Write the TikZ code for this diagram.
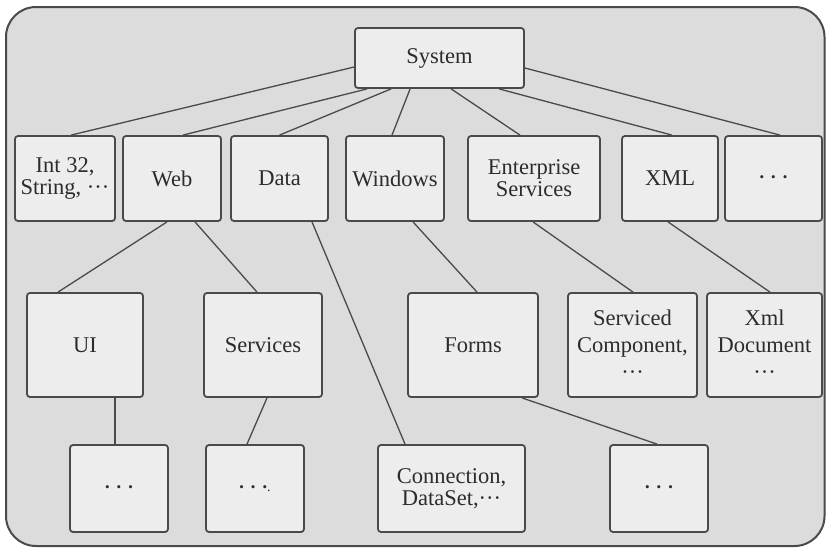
\documentclass[tikz,border=0pt]{standalone}
\usepackage{fontspec}
\setmainfont{Liberation Serif}
\usetikzlibrary{calc}
\definecolor{bgfill}{HTML}{DCDCDC}
\definecolor{boxfill}{HTML}{EDEDED}
\definecolor{edge}{HTML}{4A4A4A}
\definecolor{ink}{HTML}{2C2C2C}
\tikzset{
  box/.style={draw=edge, line width=1.8pt, fill=boxfill, rounded corners=3pt,
    inner sep=0pt, align=center, text=ink,
    font=\fontsize{22.5}{22}\selectfont},
  link/.style={draw=edge, line width=1.3pt},
}
\newcommand{\mdots}{{\fontsize{13}{13}\selectfont •\hspace{7pt}•\hspace{7pt}•}}
\newcommand{\tdots}{···}
\begin{document}
\begin{tikzpicture}[x=1pt,y=-1pt]
\useasboundingbox (0,0) rectangle (826,549);
\draw[draw=edge, line width=2pt, fill=bgfill, rounded corners=30pt] (6,7) rectangle (824.5,546);

% top
\node[box, minimum width=169pt, minimum height=60pt] (sys) at (439.5,58) {System};
% row 1
\node[box, minimum width=100pt, minimum height=85pt] (int) at (65,178.5) {Int 32,\\String, \tdots};
\node[box, minimum width=98pt, minimum height=85pt] (web) at (172,178.5) {Web};
\node[box, minimum width=97pt, minimum height=85pt] (data) at (279.5,178.5) {Data};
\node[box, minimum width=98pt, minimum height=85pt] (win) at (395,178.5) {Windows};
\node[box, minimum width=132pt, minimum height=85pt] (ent) at (534,178.5) {Enterprise\\Services};
\node[box, minimum width=96pt, minimum height=85pt] (xml) at (670,178.5) {XML};
\node[box, minimum width=97pt, minimum height=85pt] (dA) at (773.5,178.5) {\mdots};
% row 2
\node[box, minimum width=116pt, minimum height=104pt] (ui) at (85,345) {UI};
\node[box, minimum width=118pt, minimum height=104pt] (serv) at (263,345) {Services};
\node[box, minimum width=130pt, minimum height=104pt] (forms) at (473,345) {Forms};
\node[box, minimum width=129pt, minimum height=104pt, font=\fontsize{22.5}{27}\selectfont] (svc) at (632.5,345) {Serviced\\Component,\\\tdots};
\node[box, minimum width=115pt, minimum height=104pt, font=\fontsize{22.5}{27}\selectfont] (xdoc) at (764.5,345) {Xml\\Document\\\tdots};
% row 3
\node[box, minimum width=98pt, minimum height=87pt] (dB) at (119,488.5) {\mdots};
\node[box, minimum width=98pt, minimum height=87pt] (dC) at (255,488.5) {\mdots{\fontsize{14}{14}\selectfont.}};
\node[box, minimum width=147pt, minimum height=87pt] (conn) at (451.5,488.5) {Connection,\\DataSet,\tdots};
\node[box, minimum width=98pt, minimum height=87pt] (dD) at (659,488.5) {\mdots};

% connectors
\draw[link] ($(sys.west)+(0,9)$) -- ($(int.north)+(6,0)$);
\draw[link] ($(sys.south west)+(13,0)$) -- ($(web.north)+(11,0)$);
\draw[link] ($(sys.south west)+(37,0)$) -- (data.north);
\draw[link] ($(sys.south west)+(56,0)$) -- ($(win.north)+(-3,0)$);
\draw[link] ($(sys.south west)+(97,0)$) -- ($(ent.north)+(-14,0)$);
\draw[link] ($(sys.south west)+(145,0)$) -- ($(xml.north)+(2,0)$);
\draw[link] ($(sys.east)+(0,10)$) -- ($(dA.north)+(6.5,0)$);
\draw[link] ($(web.south)+(-5,0)$) -- ($(ui.north)+(-27,0)$);
\draw[link] ($(web.south)+(23,0)$) -- ($(serv.north)+(-6,0)$);
\draw[link] ($(data.south)+(32.5,0)$) -- ($(conn.north)+(-46.5,0)$);
\draw[link] ($(win.south)+(18,0)$) -- ($(forms.north)+(4,0)$);
\draw[link] ($(ent.south)+(-1,0)$) -- ($(svc.north)+(0.5,0)$);
\draw[link] ($(xml.south)+(-2,0)$) -- ($(xdoc.north)+(5.5,0)$);
\draw[link] ($(ui.south)+(30,0)$) -- ($(dB.north)+(-4,0)$);
\draw[link] ($(serv.south)+(4,0)$) -- ($(dC.north)+(-8,0)$);
\draw[link] ($(forms.south)+(49,0)$) -- ($(dD.north)+(-2,0)$);
\end{tikzpicture}
\end{document}
